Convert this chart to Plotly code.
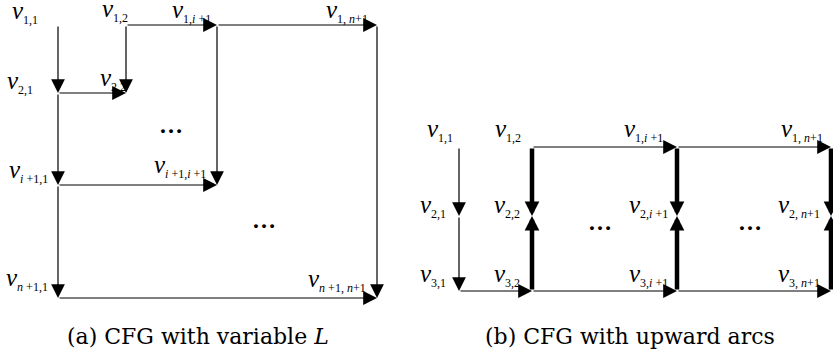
import plotly.graph_objects as go

W, H = 833, 356

# ---------------- Panel (a): CFG with variable L ----------------
a_cols = [58, 126, 217, 377]          # columns 1, 2, i+1, n+1
a_rows = [25, 93, 185, 298]           # rows 1, 2, i+1, n+1
a_edges = [((0, 0), (0, 1)), ((0, 1), (0, 2)), ((0, 2), (0, 3)),
           ((0, 1), (1, 1)), ((1, 0), (1, 1)), ((1, 0), (2, 0)),
           ((2, 0), (3, 0)), ((2, 0), (2, 2)), ((0, 2), (2, 2)),
           ((3, 0), (3, 3)), ((0, 3), (3, 3))]
a_sub = ["1,1", "1,2", "1,<i>i</i> +1", "1, <i>n</i>+1",
         "2,1", "2,2",
         "<i>i</i> +1,1", "<i>i</i> +1,<i>i</i> +1",
         "<i>n</i> +1,1", "<i>n</i> +1, <i>n</i>+1"]
a_lab_x = [40, 130, 213, 370, 35, 128, 50, 208, 50, 368]
a_lab_y = [12, 10, 11, 11, 82, 79, 171, 166, 279, 280]
a_dots_x = [171, 264]
a_dots_y = [125, 220]

# ---------------- Panel (b): CFG with upward arcs ----------------
b_cols = [459, 532, 677, 831]
b_rows = [147, 216, 291]
b_thin = [((0, 0), (0, 1)), ((0, 1), (0, 2)), ((0, 2), (1, 2)),
          ((1, 2), (2, 2)), ((2, 2), (3, 2)), ((1, 0), (2, 0)),
          ((2, 0), (3, 0))]
b_thick = [((1, 0), (1, 1)), ((1, 2), (1, 1)), ((2, 0), (2, 1)),
           ((2, 2), (2, 1)), ((3, 0), (3, 1)), ((3, 2), (3, 1))]
b_sub = ["1,1", "1,2", "1,<i>i</i> +1", "1, <i>n</i>+1",
         "2,1", "2,2", "2,<i>i</i> +1", "2, <i>n</i>+1",
         "3,1", "3,2", "3,<i>i</i> +1", "3, <i>n</i>+1"]
b_lab_x = [455, 523, 665, 825, 448, 522, 670, 822, 448, 522, 670, 822]
b_lab_y = [130, 130, 130, 130, 206, 206, 206, 206, 275, 275, 275, 275]
b_dots_x = [600, 750]
b_dots_y = [222, 222]

captions = ["(a) CFG with variable <i>L</i>", "(b) CFG with upward arcs"]
cap_x = [198, 630]
cap_y = [336, 336]

SERIF = "Liberation Serif"
fig = go.Figure()
fig.add_trace(go.Scatter(x=[0, W], y=[0, H], mode="markers",
                         marker=dict(opacity=0), hoverinfo="skip",
                         showlegend=False))
ann = []


def arrow(cols, rows, e, width, size):
    (c0, r0), (c1, r1) = e
    ann.append(dict(x=cols[c1], y=rows[r1], ax=cols[c0], ay=rows[r0],
                    xref="x", yref="y", axref="x", ayref="y",
                    text="", showarrow=True, arrowhead=2,
                    arrowsize=size, arrowwidth=width,
                    arrowcolor="#000000", standoff=0, startstandoff=0))


for e in a_edges:
    arrow(a_cols, a_rows, e, 1.2, 2.3)
for e in b_thin:
    arrow(b_cols, b_rows, e, 1.2, 2.3)
for e in b_thick:
    arrow(b_cols, b_rows, e, 4.5, 0.65)


def label(s, x, y):
    ann.append(dict(x=x, y=y, xref="x", yref="y", showarrow=False,
                    xanchor="right", yanchor="middle",
                    text="<i>v</i><sub><span style='font-size:12px'>" + s +
                         "</span></sub>",
                    font=dict(family=SERIF, size=25, color="#000000")))


for s, x, y in zip(a_sub, a_lab_x, a_lab_y):
    label(s, x, y)
for s, x, y in zip(b_sub, b_lab_x, b_lab_y):
    label(s, x, y)

for x, y in list(zip(a_dots_x, a_dots_y)) + list(zip(b_dots_x, b_dots_y)):
    ann.append(dict(x=x, y=y, xref="x", yref="y", showarrow=False,
                    text="<b>…</b>", xanchor="center", yanchor="middle",
                    font=dict(family=SERIF, size=24, color="#000000")))

for t, x, y in zip(captions, cap_x, cap_y):
    ann.append(dict(x=x, y=y, xref="x", yref="y", showarrow=False,
                    text=t, xanchor="center", yanchor="middle",
                    font=dict(family="DejaVu Serif", size=22, color="#000000")))

fig.update_layout(
    width=W, height=H,
    margin=dict(l=0, r=0, t=0, b=0),
    paper_bgcolor="white", plot_bgcolor="white",
    xaxis=dict(range=[0, W], visible=False, fixedrange=True),
    yaxis=dict(range=[H, 0], visible=False, fixedrange=True),
    annotations=ann, showlegend=False,
)
fig.write_html(
    "out.html",
    config={"displayModeBar": False, "staticPlot": True},
    post_script="document.body.style.margin='0';"
                "document.body.style.overflow='hidden';",
)
